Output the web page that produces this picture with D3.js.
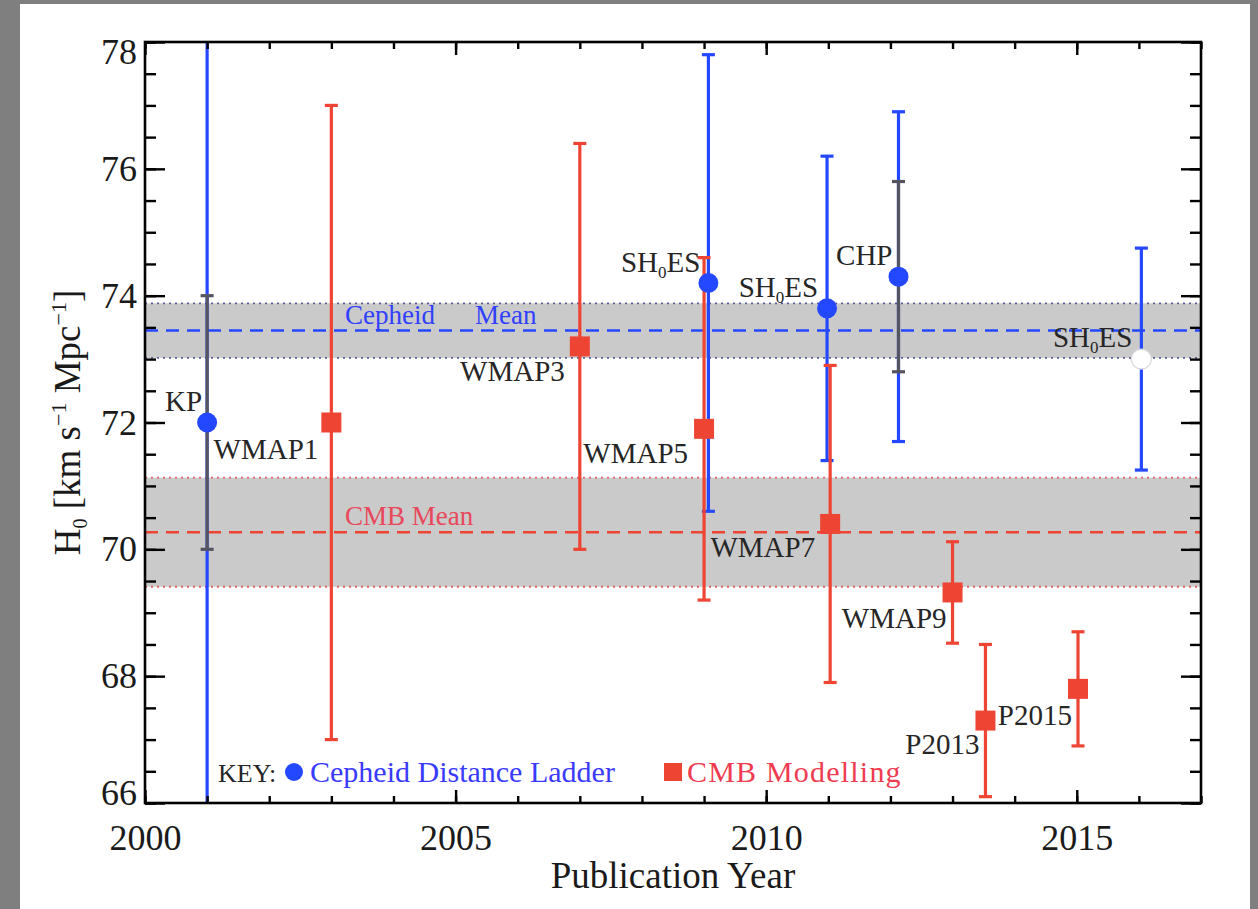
<!DOCTYPE html>
<html>
<head>
<meta charset="utf-8">
<script src="https://cdn.jsdelivr.net/npm/d3@7"></script>
<style>
  html, body { margin: 0; padding: 0; background: #7f7f7f; }
  svg { display: block; }
  text { font-family: "Liberation Serif", "DejaVu Serif", serif; }
</style>
</head>
<body>
<svg id="chart" width="1258" height="909"></svg>
<script>
// ---- data ----------------------------------------------------------------
// Cepheid distance-ladder measurements: year, H0, total error, inner (statistical) error
const cepheidNames  = ["KP", "SH0ES", "SH0ES", "CHP", "SH0ES"];
const cepheidYears  = [2001.0, 2009.07, 2010.98, 2012.13, 2016.04];
const cepheidH0     = [72.0, 74.2, 73.8, 74.3, 73.0];
const cepheidErr    = [8.0, 3.6, 2.4, 2.6, 1.75];
const cepheidInner  = [2.0, 0, 0, 1.5, 0];
const cepheidOpen   = [false, false, false, false, true];

// CMB modelling results: year, H0, error
const cmbNames = ["WMAP1", "WMAP3", "WMAP5", "WMAP7", "WMAP9", "P2013", "P2015"];
const cmbYears = [2003.0, 2007.0, 2009.0, 2011.03, 2013.0, 2013.53, 2015.02];
const cmbH0    = [72.0, 73.2, 71.9, 70.4, 69.32, 67.3, 67.8];
const cmbErr   = [5.0, 3.2, 2.7, 2.5, 0.8, 1.2, 0.9];

// Mean values and their uncertainty bands
const cepheidMean = 73.45, cepheidMeanErr = 0.43;
const cmbMean = 70.27, cmbMeanErr = 0.86;

// Axis ticks
const xMajorTicks = [2000, 2005, 2010, 2015];
const xMinorTicks = d3.range(2000, 2018, 1);
const yMajorTicks = [66, 68, 70, 72, 74, 76, 78];
const yMinorTicks = d3.range(66, 78.01, 0.5);

// ---- layout --------------------------------------------------------------
const W = 1258, H = 909;
const FONT = "Liberation Serif, DejaVu Serif, serif";
const plot = { left: 145, right: 1201, top: 42, bottom: 803 };
const BLUE = "#2448ff", RED = "#ee4433", GRAY = "#555562";

// label placement relative to each marker (px): [dx, dy], right-aligned
const labelOffsets = {
  "KP": [-5, -12], "SH0ES-2009": [-8, -11], "SH0ES-2011": [-9, -11],
  "CHP": [-6, -12], "SH0ES-2016": [-9, -12],
  "WMAP1": [-13, 36], "WMAP3": [-15, 35], "WMAP5": [-16, 34], "WMAP7": [-15, 33],
  "WMAP9": [-6, 36], "P2013": [-6, 33], "P2015": [-6, 36]
};

const cepheid = cepheidNames.map((n, i) => ({
  name: n, key: n === "SH0ES" ? "SH0ES-" + Math.round(cepheidYears[i]) : n,
  year: cepheidYears[i], h0: cepheidH0[i], err: cepheidErr[i],
  inner: cepheidInner[i], open: cepheidOpen[i]
}));
const cmb = cmbNames.map((n, i) => ({
  name: n, key: n, year: cmbYears[i], h0: cmbH0[i], err: cmbErr[i]
}));

const svg = d3.select("#chart").attr("font-family", FONT);
// white figure panel on grey surround
svg.append("rect").attr("x", 20).attr("y", 4).attr("width", 1230).attr("height", H - 4)
  .attr("fill", "#ffffff");

const x = d3.scaleLinear().domain([2000, 2017]).range([plot.left, plot.right]);
const y = d3.scaleLinear().domain([66, 78]).range([plot.bottom, plot.top]);

svg.append("defs").append("clipPath").attr("id", "plotClip")
  .append("rect").attr("x", plot.left).attr("y", plot.top)
  .attr("width", plot.right - plot.left).attr("height", plot.bottom - plot.top);

const g = svg.append("g").attr("clip-path", "url(#plotClip)");

// ---- mean bands ------------------------------------------------------------
function band(mean, err, edgeColor, lineColor) {
  g.append("rect")
    .attr("x", plot.left).attr("width", plot.right - plot.left)
    .attr("y", y(mean + err)).attr("height", y(mean - err) - y(mean + err))
    .attr("fill", "#cacaca");
  [mean + err, mean - err].forEach(v => {
    g.append("line").attr("x1", plot.left).attr("x2", plot.right)
      .attr("y1", y(v)).attr("y2", y(v))
      .attr("stroke", edgeColor).attr("stroke-width", 1.8)
      .attr("stroke-dasharray", "2,4");
  });
  g.append("line").attr("x1", plot.left).attr("x2", plot.right)
    .attr("y1", y(mean)).attr("y2", y(mean))
    .attr("stroke", lineColor).attr("stroke-width", 2.4)
    .attr("stroke-dasharray", "13,8");
}
band(cepheidMean, cepheidMeanErr, "#5a5f9a", BLUE);
band(cmbMean, cmbMeanErr, "#e0606a", RED);

// band labels
g.append("text").attr("x", 345).attr("y", y(cepheidMean) - 7)
  .attr("font-family", FONT).attr("font-size", 27).attr("fill", "#3040ff")
  .text("Cepheid").append("tspan").attr("dx", 40).text("Mean");
g.append("text").attr("x", 345).attr("y", y(cmbMean) - 7)
  .attr("font-family", FONT).attr("font-size", 27).attr("fill", "#e8485a")
  .text("CMB Mean");

// ---- error bars ------------------------------------------------------------
const CAP = 6.5;
function errorBar(sel, cx, lo, hi, color, width) {
  sel.append("line").attr("x1", cx).attr("x2", cx)
    .attr("y1", y(lo)).attr("y2", y(hi))
    .attr("stroke", color).attr("stroke-width", width);
  [lo, hi].forEach(v => {
    sel.append("line").attr("x1", cx - CAP).attr("x2", cx + CAP)
      .attr("y1", y(v)).attr("y2", y(v))
      .attr("stroke", color).attr("stroke-width", width);
  });
}
const bars = g.append("g");
cepheid.forEach(d => {
  errorBar(bars, x(d.year), d.h0 - d.err, d.h0 + d.err, BLUE, 3.2);
  if (d.inner > 0) errorBar(bars, x(d.year), d.h0 - d.inner, d.h0 + d.inner, GRAY, 3.2);
});
cmb.forEach(d => errorBar(bars, x(d.year), d.h0 - d.err, d.h0 + d.err, RED, 3.2));

// ---- markers -------------------------------------------------------------
const SQ = 20;
g.append("g").selectAll("rect").data(cmb).join("rect")
  .attr("x", d => x(d.year) - SQ / 2).attr("y", d => y(d.h0) - SQ / 2)
  .attr("width", SQ).attr("height", SQ).attr("fill", RED);
g.append("g").selectAll("circle").data(cepheid).join("circle")
  .attr("cx", d => x(d.year)).attr("cy", d => y(d.h0)).attr("r", 10)
  .attr("fill", d => d.open ? "#ffffff" : BLUE)
  .attr("stroke", d => d.open ? "#d8d8d8" : "none").attr("stroke-width", 1.2);

// ---- point labels -------------------------------------------------------
function pointLabel(d) {
  const [dx, dy] = labelOffsets[d.key];
  const t = svg.append("text")
    .attr("x", x(d.year) + dx).attr("y", y(d.h0) + dy)
    .attr("font-family", FONT)
    .attr("text-anchor", "end").attr("font-size", 29).attr("fill", "#262626");
  if (d.name === "SH0ES") {
    t.append("tspan").text("SH");
    t.append("tspan").attr("font-size", 17).attr("dy", 6).text("0");
    t.append("tspan").attr("dy", -6).text("ES");
  } else {
    t.text(d.name);
  }
}
cepheid.forEach(pointLabel);
cmb.forEach(pointLabel);

// ---- legend --------------------------------------------------------------
const legY = 782;
svg.append("text").attr("x", 218).attr("y", legY).attr("font-size", 26)
  .attr("font-family", FONT).attr("fill", "#262626").text("KEY:");
svg.append("circle").attr("cx", 294).attr("cy", legY - 10).attr("r", 9).attr("fill", BLUE);
svg.append("text").attr("x", 310).attr("y", legY).attr("font-size", 30)
  .attr("font-family", FONT).attr("fill", "#3a3aff").text("Cepheid Distance Ladder");
svg.append("rect").attr("x", 664).attr("y", legY - 19).attr("width", 18).attr("height", 18)
  .attr("fill", RED);
svg.append("text").attr("x", 687).attr("y", legY).attr("font-size", 30)
  .attr("font-family", FONT).attr("letter-spacing", 1.2)
  .attr("fill", "#f03c50").text("CMB Modelling");

// ---- axes ----------------------------------------------------------------
function styleAxis(sel) {
  sel.attr("font-family", FONT);
  sel.select(".domain").remove();
  sel.selectAll(".tick line").attr("stroke", "#000").attr("stroke-width", 2.4);
  sel.selectAll("text").attr("font-family", FONT)
    .attr("font-size", 36).attr("fill", "#1a1a1a");
}
const noLabel = () => "";

svg.append("g").attr("transform", `translate(0,${plot.bottom})`)
  .call(d3.axisBottom(x).tickValues(xMinorTicks).tickSize(-7).tickFormat(noLabel)).call(styleAxis);
svg.append("g").attr("transform", `translate(0,${plot.bottom})`)
  .call(d3.axisBottom(x).tickValues(xMajorTicks).tickSize(-13).tickPadding(21).tickFormat(d3.format("d")))
  .call(styleAxis);
svg.append("g").attr("transform", `translate(0,${plot.top})`)
  .call(d3.axisTop(x).tickValues(xMinorTicks).tickSize(-7).tickFormat(noLabel)).call(styleAxis);
svg.append("g").attr("transform", `translate(0,${plot.top})`)
  .call(d3.axisTop(x).tickValues(xMajorTicks).tickSize(-13).tickFormat(noLabel)).call(styleAxis);

svg.append("g").attr("transform", `translate(${plot.left},0)`)
  .call(d3.axisLeft(y).tickValues(yMinorTicks).tickSize(-11).tickFormat(noLabel)).call(styleAxis);
const yLeft = svg.append("g").attr("transform", `translate(${plot.left},0)`)
  .call(d3.axisLeft(y).tickValues(yMajorTicks).tickSize(-20).tickPadding(8).tickFormat(d3.format("d")))
  .call(styleAxis);
// keep the end labels inside the frame height
yLeft.selectAll(".tick text").attr("dy", d => d === 78 ? "0.6em" : d === 66 ? "0.05em" : "0.32em");
svg.append("g").attr("transform", `translate(${plot.right},0)`)
  .call(d3.axisRight(y).tickValues(yMinorTicks).tickSize(-11).tickFormat(noLabel)).call(styleAxis);
svg.append("g").attr("transform", `translate(${plot.right},0)`)
  .call(d3.axisRight(y).tickValues(yMajorTicks).tickSize(-20).tickFormat(noLabel)).call(styleAxis);

// frame
svg.append("rect").attr("x", plot.left).attr("y", plot.top)
  .attr("width", plot.right - plot.left).attr("height", plot.bottom - plot.top)
  .attr("fill", "none").attr("stroke", "#000").attr("stroke-width", 2.6);

// ---- axis titles -------------------------------------------------------
svg.append("text").attr("x", (plot.left + plot.right) / 2).attr("y", 888)
  .attr("font-family", FONT)
  .attr("text-anchor", "middle").attr("font-size", 37).attr("fill", "#1a1a1a")
  .text("Publication Year");

const yt = svg.append("text")
  .attr("transform", `translate(80,${(plot.top + plot.bottom) / 2}) rotate(-90)`)
  .attr("font-family", FONT)
  .attr("text-anchor", "middle").attr("font-size", 37).attr("fill", "#1a1a1a");
yt.append("tspan").text("H");
yt.append("tspan").attr("font-size", 20).attr("dy", 7).text("0");
yt.append("tspan").attr("dy", -7).text(" [km s");
yt.append("tspan").attr("font-size", 22).attr("dy", -14).text("−1");
yt.append("tspan").attr("dy", 14).text(" Mpc");
yt.append("tspan").attr("font-size", 22).attr("dy", -14).text("−1");
yt.append("tspan").attr("dy", 14).text("]");
</script>
</body>
</html>
